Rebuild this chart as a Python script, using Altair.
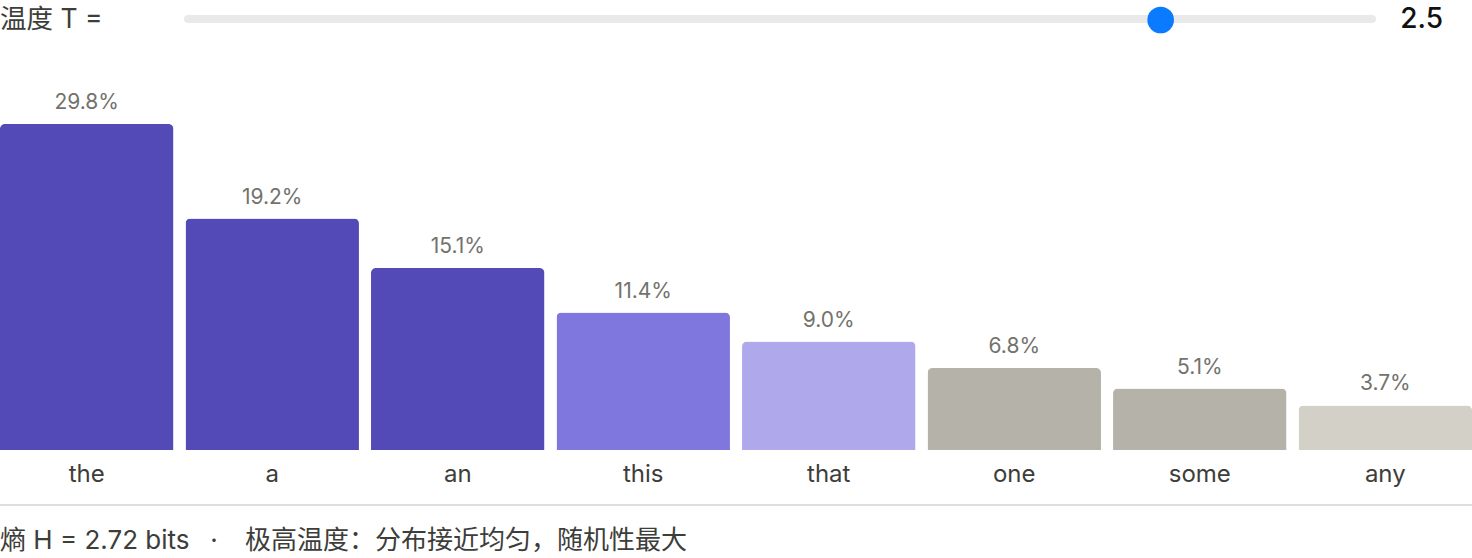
import altair as alt
import pandas as pd

# ---- data ----
tokens = ["the", "a", "an", "this", "that", "one", "some", "any"]
probs = [29.8, 19.2, 15.1, 11.4, 9.0, 6.8, 5.1, 3.7]
palette = ["#534AB7", "#534AB7", "#534AB7", "#7F77DD", "#AFA9EC", "#B4B2A9", "#B4B2A9", "#D3D1C7"]
temperature = [2.5]
t_range = [0.1, 3.0]
entropy_bits = 2.72
caption = "极高温度：分布接近均匀，随机性最大"

W, H = 1472, 558
FONT = "Inter, 'Noto Sans CJK SC', sans-serif"

bars_df = pd.DataFrame({
    "token": tokens,
    "p": probs,
    "label": [f"{v:.1f}%" for v in probs],
    "color": palette,
})
t_df = pd.DataFrame({"T": temperature})
footer_df = pd.DataFrame({"a": [f"熵 H = {entropy_bits:.2f} bits"], "b": ["·"], "c": [caption]})
title_df = pd.DataFrame({"txt": ["温度 T ="]})

xband = alt.X("token:N", sort=tokens, axis=None,
              scale=alt.Scale(type="band", range=[0, W], paddingInner=0.065, paddingOuter=0))
yq = alt.Y("p:Q", axis=None,
           scale=alt.Scale(domain=[0, 27.05], range=[450, 124], clamp=True))

base = alt.Chart(bars_df)

bars = base.mark_bar(cornerRadiusTopLeft=5, cornerRadiusTopRight=5).encode(
    x=xband, y=yq, color=alt.Color("color:N", scale=None)
)
vals = base.mark_text(font=FONT, fontSize=21, color="#73726c", baseline="middle", dy=-21).encode(
    x=xband, y=yq, text="label:N"
)
ticks = base.mark_text(font=FONT, fontSize=24, color="#3d3d3a", baseline="middle").encode(
    x=xband, y=alt.value(475), text="token:N"
)

sep = alt.Chart(bars_df).mark_rule(color="#dedede", strokeWidth=2).encode(
    x=alt.value(0), x2=alt.value(W), y=alt.value(505)
)

fbase = alt.Chart(footer_df)
f_style = dict(font=FONT, fontSize=26, color="#3d3d3a", baseline="middle")
footer_a = fbase.mark_text(align="left", **f_style).encode(
    x=alt.value(0), y=alt.value(541), text="a:N")
footer_b = fbase.mark_text(align="center", **f_style).encode(
    x=alt.value(214), y=alt.value(541), text="b:N")
footer_c = fbase.mark_text(align="left", **f_style).encode(
    x=alt.value(245), y=alt.value(541), text="c:N")

title = alt.Chart(title_df).mark_text(font=FONT, fontSize=26.5, color="#3d3d3a",
                                      align="left", baseline="middle").encode(
    x=alt.value(0), y=alt.value(20), text="txt:N"
)

track = alt.Chart(t_df).mark_rule(color="#e9e9e9", strokeWidth=8, strokeCap="round").encode(
    x=alt.value(188), x2=alt.value(1372), y=alt.value(19)
)

knob = alt.Chart(t_df).mark_point(filled=True, shape="circle", size=707, color="#0A7AFF", opacity=1).encode(
    x=alt.X("T:Q", axis=None, scale=alt.Scale(domain=t_range, range=[199, 1361])),
    y=alt.value(20),
)

tval = alt.Chart(t_df).mark_text(font=FONT, fontSize=28, fontWeight=500, color="#111111",
                                 align="right", baseline="middle").encode(
    x=alt.value(1443), y=alt.value(20), text=alt.Text("T:Q", format=".1f")
)

chart = alt.layer(bars, vals, ticks, sep, footer_a, footer_b, footer_c, title, track, knob, tval).resolve_scale(
    x="independent", y="independent"
).properties(
    width=W, height=H, autosize=alt.AutoSizeParams(type="none"), padding=0
).configure_view(stroke=None)

chart.save("out.html", embed_options={"renderer": "svg", "actions": False})
